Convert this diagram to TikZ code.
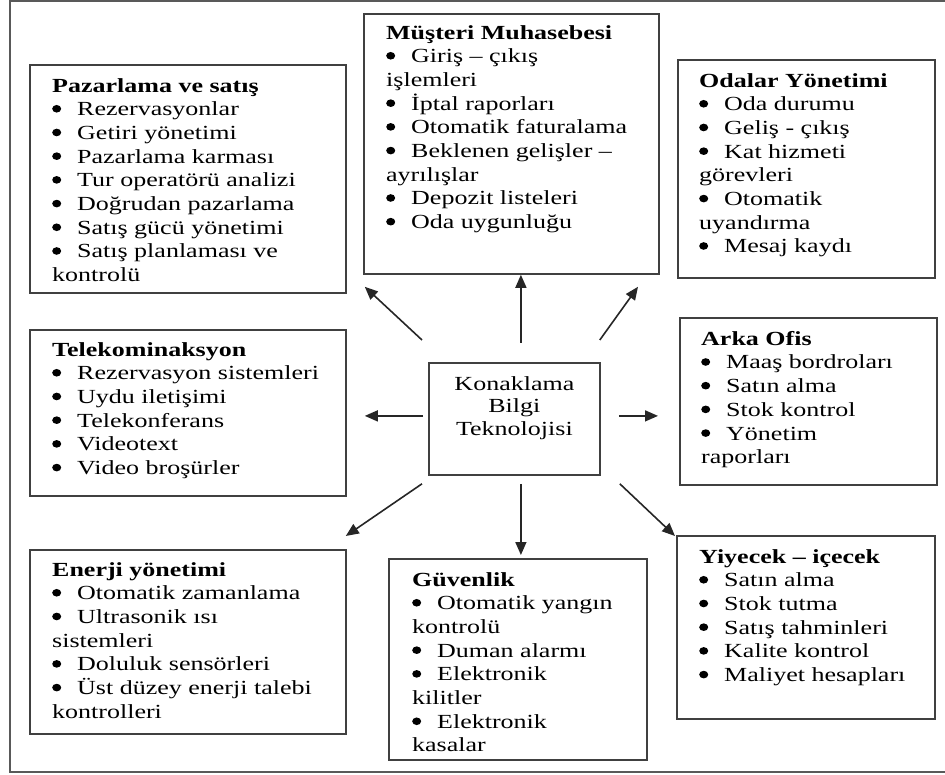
\documentclass[tikz,border=0pt]{standalone}
\usepackage{fontspec}
\setmainfont{Liberation Serif}[FakeStretch=1.3]
\usetikzlibrary{arrows.meta}
% round bullet followed by a fixed gap before the item text
\newcommand\blt{\makebox[25pt][l]{\tikz[x=1pt,y=1pt,baseline=0pt]
  \fill (4.5,7) ellipse [x radius=4.5pt, y radius=3.8pt];}}
\begin{document}
\begin{tikzpicture}[x=1pt,y=-1pt,
  frame/.style={draw=black!65, line width=2pt},
  box/.style={draw=black!75, line width=1.8pt, inner sep=0pt, anchor=north west},
  txt/.style={anchor=north west, inner sep=0pt, align=left, text=black,
    font=\fontsize{20}{23.7}\selectfont},
  ctext/.style={anchor=north, inner sep=0pt, align=center, text=black,
    font=\fontsize{20}{22.5}\selectfont},
  arr/.style={draw=black!85, line width=1.6pt, -{Triangle[length=13pt,width=11pt]}}]
\useasboundingbox (0,0) rectangle (945,775);

% outer frame (open on the right)
\draw[frame] (946,1) -- (10,1) -- (10,772) -- (946,772);

% boxes
\node[box, minimum width=316pt, minimum height=228pt] (paz)  at (29,64)  {};
\node[box, minimum width=295pt, minimum height=260pt] (mus)  at (363,13) {};
\node[box, minimum width=257pt, minimum height=218pt] (oda)  at (677,59) {};
\node[box, minimum width=316pt, minimum height=166pt] (tel)  at (29,329) {};
\node[box, minimum width=171pt, minimum height=112pt] (ctr)  at (428,362) {};
\node[box, minimum width=257pt, minimum height=167pt] (arka) at (679,317) {};
\node[box, minimum width=316pt, minimum height=184pt] (ener) at (29,549) {};
\node[box, minimum width=258pt, minimum height=201pt] (guv)  at (388,558) {};
\node[box, minimum width=258pt, minimum height=183pt] (yiy)  at (676,535) {};

% box texts
\node[txt] (pazt) at (52,78) {\textbf{Pazarlama ve satış}\\
  \blt Rezervasyonlar\\ \blt Getiri yönetimi\\ \blt Pazarlama karması\\
  \blt Tur operatörü analizi\\ \blt Doğrudan pazarlama\\
  \blt Satış gücü yönetimi\\ \blt Satış planlaması ve\\ kontrolü};
\node[txt] (must) at (386,25) {\textbf{Müşteri Muhasebesi}\\
  \blt Giriş – çıkış\\ işlemleri\\ \blt İptal raporları\\
  \blt Otomatik faturalama\\ \blt Beklenen gelişler –\\ ayrılışlar\\
  \blt Depozit listeleri\\ \blt Oda uygunluğu};
\node[txt] (odat) at (699,73) {\textbf{Odalar Yönetimi}\\
  \blt Oda durumu\\ \blt Geliş - çıkış\\ \blt Kat hizmeti\\ görevleri\\
  \blt Otomatik\\ uyandırma\\ \blt Mesaj kaydı};
\node[txt] (telt) at (52,342) {\textbf{Telekominaksyon}\\
  \blt Rezervasyon sistemleri\\ \blt Uydu iletişimi\\ \blt Telekonferans\\
  \blt Videotext\\ \blt Video broşürler};
\node[txt] (arkat) at (701,331) {\textbf{Arka Ofis}\\
  \blt Maaş bordroları\\ \blt Satın alma\\ \blt Stok kontrol\\
  \blt Yönetim\\ raporları};
\node[txt] (enert) at (52,562) {\textbf{Enerji yönetimi}\\
  \blt Otomatik zamanlama\\ \blt Ultrasonik ısı\\ sistemleri\\
  \blt Doluluk sensörleri\\ \blt Üst düzey enerji talebi\\ kontrolleri};
\node[txt] (guvt) at (412,572) {\textbf{Güvenlik}\\
  \blt Otomatik yangın\\ kontrolü\\ \blt Duman alarmı\\
  \blt Elektronik\\ kilitler\\ \blt Elektronik\\ kasalar};
\node[txt] (yiyt) at (699,549) {\textbf{Yiyecek – içecek}\\
  \blt Satın alma\\ \blt Stok tutma\\ \blt Satış tahminleri\\
  \blt Kalite kontrol\\ \blt Maliyet hesapları};
\node[ctext] (ctrt) at ([yshift=-14pt]ctr.north) {Konaklama\\ Bilgi\\ Teknolojisi};

% arrows from the centre box
\draw[arr] ([shift={(-6,-22)}]ctr.north west) -- ([shift={(18,-7)}]paz.south east);
\draw[arr] ([shift={(6.5,-19)}]ctr.north) -- ([shift={(9.5,0)}]mus.south);
\draw[arr] ([shift={(-1,-22)}]ctr.north east) -- ([shift={(-39,8)}]oda.south west);
\draw[arr] ([shift={(-5,-3)}]ctr.west) -- ([shift={(18,3)}]tel.east);
\draw[arr] ([shift={(18,-3)}]ctr.east) -- ([shift={(-21,14.5)}]arka.west);
\draw[arr] ([shift={(-6,8)}]ctr.south west) -- ([shift={(-1,-13)}]ener.north east);
\draw[arr] ([shift={(6.5,8)}]ctr.south) -- ([shift={(3,-3)}]guv.north);
\draw[arr] ([shift={(19,8)}]ctr.south east) -- ([shift={(-1,1)}]yiy.north west);
\end{tikzpicture}
\end{document}
